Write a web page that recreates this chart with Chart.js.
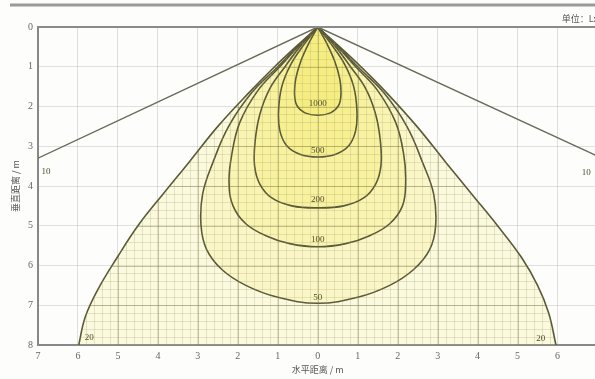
<!DOCTYPE html>
<html><head><meta charset="utf-8">
<script src="https://cdn.jsdelivr.net/npm/chart.js@4/dist/chart.umd.min.js"></script>
<style>
html,body{margin:0;padding:0;background:#fdfdfb;overflow:hidden;width:595px;height:379px}
#wrap{position:relative;width:605px;height:379px}
</style></head>
<body><div id="wrap"><canvas id="c" width="605" height="379"></canvas></div>
<script>
// ---- data (metres; x = horizontal distance, y = vertical distance below the lamp) ----
const xTickLabels = ['7','6','5','4','3','2','1','0','1','2','3','4','5','6','7'];
const yTickLabels = ['0','1','2','3','4','5','6','7','8'];
const xTitle = '水平距离 / m';
const yTitle = '垂直距离 / m';
const unitText = '单位：Lx';

const c1000X = [0, -0.22, -0.42, -0.55, -0.58, -0.52, -0.32, 0, 0.32, 0.52, 0.58, 0.55, 0.42, 0.22, 0];
const c1000Y = [0, 0.4, 0.85, 1.3, 1.7, 1.98, 2.16, 2.22, 2.16, 1.98, 1.7, 1.3, 0.85, 0.4, 0];

const c500X = [0, -0.35, -0.68, -0.9, -0.98, -0.95, -0.78, -0.45, 0, 0.45, 0.78, 0.95, 0.98, 0.9, 0.68, 0.35, 0];
const c500Y = [0, 0.45, 0.95, 1.5, 2.1, 2.6, 2.98, 3.2, 3.27, 3.2, 2.98, 2.6, 2.1, 1.5, 0.95, 0.45, 0];

const c200X = [0, -0.45, -0.82, -1.2, -1.45, -1.57, -1.58, -1.45, -1.15, -0.65, 0, 0.65, 1.15, 1.45, 1.58, 1.57, 1.45, 1.2, 0.82, 0.45, 0];
const c200Y = [0, 0.5, 1.0, 1.55, 2.2, 2.9, 3.5, 3.95, 4.3, 4.5, 4.55, 4.5, 4.3, 3.95, 3.5, 2.9, 2.2, 1.55, 1.0, 0.5, 0];

const c100X = [0, -0.5, -0.95, -1.5, -1.95, -2.15, -2.22, -2.12, -1.8, -1.3, -0.7, 0, 0.7, 1.3, 1.8, 2.12, 2.2, 2.15, 1.95, 1.5, 0.95, 0.5, 0];
const c100Y = [0, 0.5, 1.0, 1.6, 2.4, 3.2, 3.9, 4.5, 4.95, 5.25, 5.45, 5.53, 5.45, 5.25, 4.95, 4.5, 3.9, 3.2, 2.4, 1.6, 1.0, 0.5, 0];

const c50X = [0, -0.52, -1.0, -1.65, -2.23, -2.62, -2.88, -2.92, -2.78, -2.4, -1.8, -1.0, 0, 1.0, 1.8, 2.4, 2.8, 2.95, 2.9, 2.62, 2.23, 1.65, 1.0, 0.52, 0];
const c50Y = [0, 0.5, 1.0, 1.65, 2.5, 3.4, 4.2, 5.0, 5.6, 6.1, 6.5, 6.8, 6.95, 6.8, 6.5, 6.1, 5.6, 5.0, 4.2, 3.4, 2.5, 1.65, 1.0, 0.5, 0];

const c20X = [-5.98, -5.82, -5.5, -5.02, -4.5, -3.87, -3.22, -2.5, -1.72, -1.08, -0.55, 0, 0, 0.55, 1.08, 1.72, 2.48, 3.2, 3.85, 4.5, 5.1, 5.5, 5.78, 5.96];
const c20Y = [8, 7.3, 6.6, 5.8, 5.0, 4.2, 3.4, 2.5, 1.65, 1.0, 0.5, 0, 0, 0.5, 1.0, 1.65, 2.5, 3.4, 4.2, 5.0, 5.8, 6.5, 7.2, 8];

const c10X = [-7, 0, 7];
const c10Y = [3.3, 0, 3.25];

const labelText = ['1000', '500', '200', '100', '50', '20', '20', '10', '10'];
const labelX = [0, 0, 0, 0, 0, -5.72, 5.58, -6.8, 6.72];
const labelY = [1.92, 3.1, 4.35, 5.35, 6.8, 7.82, 7.85, 3.65, 3.67];

// ---- build ----
const toPts = (xs, ys) => xs.map((v, i) => ({x: v, y: ys[i]}));
const lineCol = '#5b5a38';
const fillCol = 'rgba(238,226,50,0.14)';
const filled = [[c1000X, c1000Y], [c500X, c500Y], [c200X, c200Y], [c100X, c100Y], [c50X, c50Y], [c20X, c20Y]];
const outerIndex = filled.length; // dataset index of the 20 lx contour

const datasets = [{
  data: toPts(c10X, c10Y), showLine: true, fill: false, borderColor: '#6a6a5a',
  borderWidth: 1.4, pointRadius: 0, tension: 0
}].concat(filled.map(([xs, ys]) => ({
  data: toPts(xs, ys), showLine: true, fill: 'shape', backgroundColor: fillCol,
  borderColor: lineCol, borderWidth: 1.6, pointRadius: 0, tension: 0.4
})));

const isMajor = v => Math.abs(v - Math.round(v)) < 1e-6;
const tickFont = {family: 'Liberation Serif', size: 10};
const titleFont = {family: 'Noto Sans CJK SC', size: 9};

// fine grid visible only inside the lit (yellow) area
const innerGrid = {
  id: 'innerGrid',
  afterDatasetsDraw(chart) {
    const {ctx, chartArea: a, scales: {x, y}} = chart;
    const el = chart.getDatasetMeta(outerIndex).dataset;
    ctx.save();
    ctx.beginPath();
    el.path(ctx);
    ctx.closePath();
    ctx.clip();
    for (let i = -35; i <= 35; i++) {
      const px = Math.round(x.getPixelForValue(i / 5)) + 0.5;
      ctx.strokeStyle = i % 5 === 0 ? 'rgba(105,105,60,0.38)' : 'rgba(150,150,90,0.22)';
      ctx.lineWidth = 1;
      ctx.beginPath(); ctx.moveTo(px, a.top); ctx.lineTo(px, a.bottom); ctx.stroke();
    }
    for (let j = 0; j <= 40; j++) {
      const py = Math.round(y.getPixelForValue(j / 5)) + 0.5;
      ctx.strokeStyle = j % 5 === 0 ? 'rgba(105,105,60,0.38)' : 'rgba(150,150,90,0.22)';
      ctx.beginPath(); ctx.moveTo(a.left, py); ctx.lineTo(a.right, py); ctx.stroke();
    }
    ctx.restore();
  }
};

const deco = {
  id: 'deco',
  afterDraw(chart) {
    const {ctx, chartArea: a, scales: {x, y}} = chart;
    ctx.save();
    ctx.strokeStyle = '#9a9a9a'; ctx.lineWidth = 3;
    ctx.beginPath(); ctx.moveTo(10, 5); ctx.lineTo(605, 5); ctx.stroke();
    ctx.strokeStyle = '#8a8a8a'; ctx.lineWidth = 2;
    ctx.beginPath(); ctx.moveTo(a.left - 1, a.top); ctx.lineTo(a.right, a.top); ctx.stroke();
    ctx.fillStyle = '#555';
    ctx.font = '9px "Noto Sans CJK SC"';
    ctx.textAlign = 'right'; ctx.textBaseline = 'middle';
    ctx.fillText(unitText, 598, 19);
    ctx.fillStyle = '#4f4e26';
    ctx.font = '9px "Liberation Serif"';
    ctx.textAlign = 'center';
    labelText.forEach((t, i) => {
      ctx.fillText(t, x.getPixelForValue(labelX[i]), y.getPixelForValue(labelY[i]));
    });
    ctx.restore();
  }
};

new Chart(document.getElementById('c'), {
  type: 'scatter',
  data: {datasets},
  plugins: [innerGrid, deco],
  options: {
    responsive: false, animation: false, devicePixelRatio: 1,
    layout: {padding: {left: 0, top: 27, right: 6, bottom: 0}},
    plugins: {legend: {display: false}, tooltip: {enabled: false}},
    scales: {
      x: {
        type: 'linear', min: -7, max: 7,
        ticks: {stepSize: 1, autoSkip: false, maxRotation: 0, minRotation: 0, padding: 5, color: '#666', font: tickFont,
          callback: v => isMajor(v) ? xTickLabels[Math.round(v) + 7] : ''},
        grid: {drawTicks: false, color: 'rgba(150,150,150,0.28)', lineWidth: 1},
        border: {display: true, color: '#888', width: 2},
        title: {display: true, text: xTitle, color: '#555', font: titleFont, padding: {top: 0, bottom: 4}},
        afterFit(s) { s.height = 34; }
      },
      y: {
        type: 'linear', min: 0, max: 8, reverse: true,
        ticks: {stepSize: 1, autoSkip: false, padding: 5, color: '#666', font: tickFont,
          callback: v => isMajor(v) ? yTickLabels[Math.round(v)] : ''},
        grid: {drawTicks: false, color: 'rgba(150,150,150,0.28)', lineWidth: 1},
        border: {display: true, color: '#888', width: 2},
        title: {display: true, text: yTitle, color: '#555', font: titleFont, padding: {top: 10, bottom: 0}},
        afterFit(s) { s.width = 38; }
      }
    }
  }
});
</script></body></html>
